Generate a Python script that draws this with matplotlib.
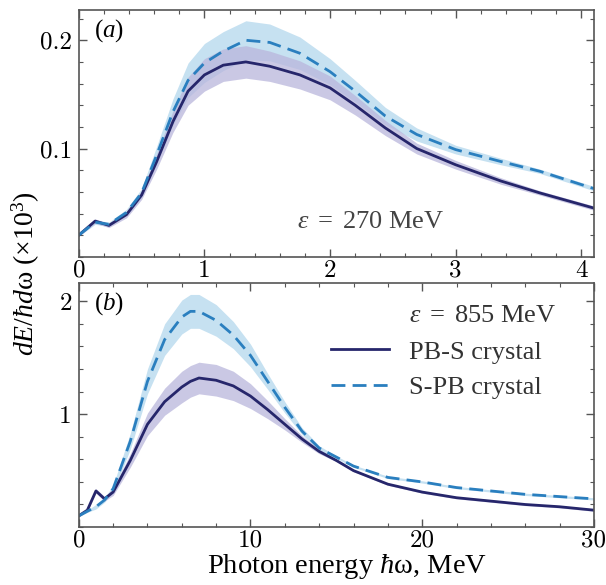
import numpy as np
import matplotlib.pyplot as plt
from matplotlib.ticker import MultipleLocator

plt.rcParams['mathtext.fontset'] = 'custom'
plt.rcParams['mathtext.rm'] = 'Liberation Serif'
plt.rcParams['mathtext.it'] = 'Liberation Serif:italic'
plt.rcParams['axes.formatter.use_mathtext'] = True

# panel (a): eps = 270 MeV
x_a = [0.0, 0.13, 0.24, 0.38, 0.5, 0.62, 0.75, 0.87, 1.0, 1.15, 1.33, 1.52, 1.76,
       2.0, 2.2, 2.44, 2.69, 3.0, 3.36, 3.67, 4.1]
pbs_a = [0.020, 0.033, 0.029, 0.039, 0.057, 0.088, 0.125, 0.153, 0.168, 0.177, 0.180,
         0.176, 0.168, 0.156, 0.140, 0.119, 0.100, 0.085, 0.070, 0.059, 0.045]
spb_a = [0.020, 0.032, 0.030, 0.041, 0.059, 0.094, 0.134, 0.163, 0.179, 0.190, 0.200,
         0.198, 0.188, 0.171, 0.153, 0.130, 0.113, 0.099, 0.088, 0.079, 0.063]
pbs_a_err = [0.001, 0.002, 0.002, 0.003, 0.004, 0.007, 0.010, 0.013, 0.015, 0.015, 0.015,
             0.014, 0.013, 0.011, 0.009, 0.007, 0.005, 0.004, 0.003, 0.002, 0.002]
spb_a_err = [0.001, 0.002, 0.002, 0.003, 0.004, 0.008, 0.012, 0.016, 0.018, 0.018, 0.018,
             0.017, 0.015, 0.012, 0.010, 0.008, 0.006, 0.004, 0.003, 0.002, 0.002]

# panel (b): eps = 855 MeV
x_b = [0, 0.5, 1.0, 1.5, 2, 3, 4, 5, 6, 6.5, 7, 8, 9, 10, 11, 12, 13, 14, 15, 16,
       18, 20, 22, 24, 26, 28, 30]
pbs_b = [0.10, 0.15, 0.32, 0.25, 0.31, 0.59, 0.91, 1.11, 1.24, 1.29, 1.32, 1.30, 1.25,
         1.16, 1.04, 0.91, 0.78, 0.67, 0.59, 0.50, 0.38, 0.31, 0.26, 0.23, 0.20, 0.18, 0.15]
spb_b = [0.10, 0.14, 0.18, 0.24, 0.34, 0.76, 1.29, 1.66, 1.86, 1.91, 1.91, 1.83, 1.70,
         1.52, 1.29, 1.06, 0.85, 0.70, 0.62, 0.54, 0.44, 0.40, 0.35, 0.32, 0.29, 0.27, 0.25]
pbs_b_err = [0.01, 0.01, 0.02, 0.02, 0.03, 0.06, 0.10, 0.12, 0.14, 0.14, 0.14, 0.14, 0.13,
             0.11, 0.08, 0.05, 0.03, 0.02, 0.01, 0.01, 0.01, 0.01, 0.01, 0.01, 0.01, 0.01, 0.01]
spb_b_err = [0.01, 0.01, 0.02, 0.02, 0.03, 0.07, 0.11, 0.14, 0.15, 0.15, 0.15, 0.14, 0.12,
             0.10, 0.07, 0.05, 0.03, 0.02, 0.01, 0.01, 0.01, 0.01, 0.01, 0.01, 0.01, 0.01, 0.01]

c_solid = '#26266b'
c_dash = '#2a7fbf'
c_band_solid = '#b9b6dc'
c_band_dash = '#bcdcef'

fig = plt.figure(figsize=(6.06, 5.85), dpi=100)
ax1 = fig.add_axes([0.130, 0.561, 0.850, 0.422])
ax2 = fig.add_axes([0.130, 0.099, 0.850, 0.417])


def draw(ax, x, pbs, spb, pbs_err, spb_err):
    x = np.array(x)
    pbs = np.array(pbs); spb = np.array(spb)
    pbs_err = np.array(pbs_err); spb_err = np.array(spb_err)
    ax.fill_between(x, spb - spb_err, spb + spb_err, color=c_band_dash, alpha=0.85, lw=0)
    ax.fill_between(x, pbs - pbs_err, pbs + pbs_err, color=c_band_solid, alpha=0.75, lw=0)
    ax.plot(x, pbs, color=c_solid, lw=2.0, label='PB-S crystal')
    ax.plot(x, spb, color=c_dash, lw=2.0, ls=(0, (5, 2.6)), label='S-PB crystal')
    ax.tick_params(which='both', direction='in', top=True, right=True,
                   color='#555555', labelsize=18)
    ax.tick_params(axis='x', pad=2)
    ax.tick_params(axis='y', pad=5)
    ax.tick_params(which='major', length=6, width=1)
    ax.tick_params(which='minor', length=3, width=0.8)
    for s in ax.spines.values():
        s.set_color('#555555')
        s.set_linewidth(1.2)


draw(ax1, x_a, pbs_a, spb_a, pbs_a_err, spb_a_err)
ax1.set_xlim(0, 4.1)
ax1.set_ylim(0, 0.228)
ax1.xaxis.set_minor_locator(MultipleLocator(0.2))
ax1.yaxis.set_minor_locator(MultipleLocator(0.02))
ax1.set_yticks([0.1, 0.2])
ax1.set_yticklabels(['0.1', '0.2'], family='cmr10')
ax1.set_xticks([0, 1, 2, 3, 4])
ax1.set_xticklabels(['0', '1', '2', '3', '4'], family='cmr10')
ax1.text(0.03, 0.97, r'($\mathit{a}$)', transform=ax1.transAxes, fontsize=18,
         va='top', ha='left', family='Liberation Serif')
ax1.text(2.32, 0.033, r'$\varepsilon\ =\ 270\ \mathrm{MeV}$', fontsize=19,
         color='#444444', ha='center', va='center')

draw(ax2, x_b, pbs_b, spb_b, pbs_b_err, spb_b_err)
ax2.set_xlim(0, 30)
ax2.set_ylim(0, 2.16)
ax2.xaxis.set_minor_locator(MultipleLocator(2))
ax2.yaxis.set_minor_locator(MultipleLocator(0.2))
ax2.set_yticks([1, 2])
ax2.set_yticklabels(['1', '2'], family='cmr10')
ax2.set_xticks([0, 10, 20, 30])
ax2.set_xticklabels(['0', '10', '20', '30'], family='cmr10')
ax2.text(0.03, 0.97, r'($\mathit{b}$)', transform=ax2.transAxes, fontsize=18,
         va='top', ha='left', family='Liberation Serif')
ax2.text(0.642, 0.868, r'$\varepsilon\ =\ 855\ \mathrm{MeV}$', transform=ax2.transAxes,
         fontsize=19, color='#333333', ha='left', va='center')
leg = ax2.legend(loc='upper left', bbox_to_anchor=(0.47, 0.81), frameon=False,
                 prop={'family': 'Liberation Serif', 'size': 19},
                 handlelength=2.2, handletextpad=0.75, labelspacing=0.45,
                 borderaxespad=0)
for t in leg.get_texts():
    t.set_color('#333333')

ax2.set_xlabel(r'Photon energy $\hbar$ω, MeV', family='Liberation Serif',
               fontsize=20.5, va='baseline')
ax2.xaxis.set_label_coords(0.52, -0.19)
fig.text(0.043, 0.533, r'$dE/\hbar d$ω (×10$^3$)', rotation=90, family='Liberation Serif',
         fontsize=20, ha='center', va='center')

fig.savefig('out.png', dpi=100)
